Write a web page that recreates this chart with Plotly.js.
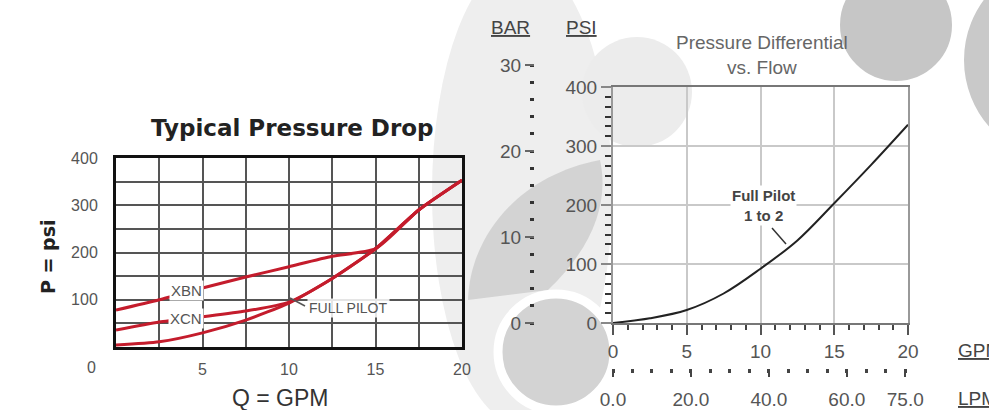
<!DOCTYPE html>
<html><head><meta charset="utf-8">
<script src="https://cdn.plot.ly/plotly-3.0.1.min.js"></script>
<style>html,body{margin:0;padding:0;background:#fff}#chart{width:989px;height:410px}</style>
</head><body><div id="chart"></div>
<script>
// ---- data ----
const gpmLeft = [0, 2.5, 5, 7.5, 10, 12.5, 15, 17.5, 20];
const fullPilotLeft = [4, 11, 30, 57, 93, 145, 208, 290, 353];
const xcnLeft = [36, 53, 64, 76, 95, 145, 208, 290, 353];
const xbnLeft = [78, 100, 125, 148, 170, 192, 208, 290, 353];
const leftXTicks = [5, 10, 15, 20];
const leftXLabels = ['5', '10', '15', '20'];
const leftYTicks = [100, 200, 300, 400];
const leftYLabels = ['100', '200', '300', '400'];

const gpmRight = [0, 2.5, 5, 7.5, 10, 12.5, 15, 17.5, 20];
const psiRight = [0, 8, 22, 50, 92, 140, 203, 268, 336];
const lpmTicks = [0, 20, 40, 60, 75];
const lpmLabels = ['0.0', '20.0', '40.0', '60.0', '75.0'];
const barTicks = [0, 10, 20, 30];

// ---- helpers (pixel -> paper) ----
const W = 989, H = 410;
const px = x => x / W, py = y => 1 - y / H;
const FONT = 'Liberation Sans, Arial, sans-serif';

function circ(cx, cy, r, fill, line) {
  return {type: 'circle', xref: 'paper', yref: 'paper', layer: 'below',
    x0: px(cx - r), x1: px(cx + r), y0: py(cy + r), y1: py(cy - r),
    fillcolor: fill, line: line || {width: 0}};
}
function ell(x0, y0, x1, y1, fill) {
  return {type: 'circle', xref: 'paper', yref: 'paper', layer: 'below',
    x0: px(x0), x1: px(x1), y0: py(y1), y1: py(y0), fillcolor: fill, line: {width: 0}};
}
function pathPx(cmds, fill) {
  let s = '', isX = true;
  cmds.forEach(c => {
    if (typeof c === 'string') { s += ' ' + c; isX = true; }
    else { s += ' ' + (isX ? px(c) : py(c)).toFixed(5); isX = !isX; }
  });
  return {type: 'path', xref: 'paper', yref: 'paper', layer: 'below', path: s.trim() + ' Z',
    fillcolor: fill, line: {width: 0}};
}
function linePx(x0, y0, x1, y1, color, w) {
  return {type: 'line', xref: 'paper', yref: 'paper', x0: px(x0), y0: py(y0), x1: px(x1), y1: py(y1),
    line: {color: color, width: w}};
}
function ann(text, x, y, opts) {
  return Object.assign({text: text, xref: 'paper', yref: 'paper', x: px(x), y: py(y),
    xanchor: 'center', yanchor: 'middle',
    showarrow: false, font: {family: FONT, size: 16, color: '#444'}}, opts || {});
}

const red = 'rgb(196,28,44)';
const traces = [
  {x: gpmLeft, y: xbnLeft, mode: 'lines', line: {color: red, width: 3, shape: 'spline', smoothing: 0.6}, xaxis: 'x', yaxis: 'y', hoverinfo: 'skip'},
  {x: gpmLeft, y: xcnLeft, mode: 'lines', line: {color: red, width: 3, shape: 'spline', smoothing: 0.6}, xaxis: 'x', yaxis: 'y', hoverinfo: 'skip'},
  {x: gpmLeft, y: fullPilotLeft, mode: 'lines', line: {color: red, width: 3, shape: 'spline', smoothing: 0.6}, xaxis: 'x', yaxis: 'y', hoverinfo: 'skip'},
  {x: gpmRight, y: psiRight, mode: 'lines', line: {color: '#222', width: 2, shape: 'spline'}, xaxis: 'x2', yaxis: 'y2', hoverinfo: 'skip'},
  {x: [], y: [], xaxis: 'x3', yaxis: 'y3', showlegend: false},
  {x: [], y: [], xaxis: 'x4', yaxis: 'y2', showlegend: false}
];

const tickF = {family: FONT, size: 16, color: '#555'};
const tickR = {family: FONT, size: 19, color: '#555'};

const layout = {
  width: W, height: H, margin: {l: 0, r: 0, t: 0, b: 0},
  paper_bgcolor: '#fff', plot_bgcolor: 'rgba(0,0,0,0)', showlegend: false,
  xaxis: {domain: [px(116), px(462)], range: [0, 20], anchor: 'y',
    tickmode: 'array', tickvals: leftXTicks, ticktext: leftXLabels, tickfont: tickF,
    ticks: '', ticklabelstandoff: 6,
    showgrid: true, gridcolor: '#555', gridwidth: 2, zeroline: false,
    minor: {tickmode: 'linear', tick0: 0, dtick: 2.5, showgrid: true, gridcolor: '#555', gridwidth: 2},
    showline: true, mirror: true, linecolor: '#111', linewidth: 3},
  yaxis: {domain: [py(347), py(158)], range: [0, 400], anchor: 'x',
    tickmode: 'array', tickvals: leftYTicks, ticktext: leftYLabels, tickfont: tickF,
    ticks: '', ticklabelstandoff: 12,
    showgrid: true, gridcolor: '#555', gridwidth: 2, zeroline: false,
    minor: {tickmode: 'linear', tick0: 0, dtick: 50, showgrid: true, gridcolor: '#555', gridwidth: 2},
    showline: true, mirror: true, linecolor: '#111', linewidth: 3},
  xaxis2: {domain: [px(613), px(908)], range: [0, 20], anchor: 'y2', dtick: 5, tickfont: tickR,
    showgrid: true, gridcolor: '#c9c9c9', gridwidth: 2, zeroline: false,
    showline: true, mirror: true, linecolor: '#777', linewidth: 2,
    ticks: 'outside', ticklen: 10, tickwidth: 2, tickcolor: '#555',
    minor: {dtick: 1, ticks: 'outside', ticklen: 5, tickwidth: 2, tickcolor: '#444'}},
  yaxis2: {domain: [py(323), py(87)], range: [0, 400], anchor: 'x2', dtick: 100, tickfont: tickR,
    showgrid: true, gridcolor: '#c9c9c9', gridwidth: 2, zeroline: false,
    showline: true, mirror: true, linecolor: '#999', linewidth: 2,
    ticks: 'outside', ticklen: 10, tickwidth: 2, tickcolor: '#888',
    minor: {dtick: 100 / 6, ticks: 'outside', ticklen: 6, tickwidth: 2, tickcolor: '#333'}},
  xaxis3: {domain: [px(535), px(600)], anchor: 'y3', visible: false, range: [0, 1]},
  yaxis3: {domain: [py(323), py(65)], range: [0, 30], anchor: 'x3',
    tickmode: 'array', tickvals: barTicks, tickfont: tickR,
    showgrid: false, zeroline: false, showline: false,
    ticks: 'outside', ticklen: 9, tickwidth: 2, tickcolor: '#666',
    minor: {tickmode: 'linear', tick0: 0, dtick: 2, ticks: 'outside', ticklen: 4, tickwidth: 3, tickcolor: '#333'}},
  xaxis4: {overlaying: 'x2', anchor: 'free', position: py(368), side: 'bottom', range: [0, 75.7],
    tickmode: 'array', tickvals: lpmTicks, ticktext: lpmLabels, tickfont: tickR,
    showgrid: false, zeroline: false, showline: false, ticklabelstandoff: 6,
    ticks: 'outside', ticklen: 8, tickwidth: 2, tickcolor: '#444',
    minor: {tickmode: 'linear', tick0: 0, dtick: 5, ticks: 'outside', ticklen: 4, tickwidth: 3, tickcolor: '#444'}},
  shapes: [
    ell(432, -40, 612, 425, '#eeeeee'),
    circ(637, 92, 55, '#ececec'),
    pathPx(['M', 468, 300, 'C', 470, 235, 520, 175, 600, 160, 'C', 610, 205, 590, 250, 548, 290], '#d3d3d3'),
    circ(556, 352, 58, '#d3d3d3', {color: '#ffffff', width: 9}),
    circ(896, 25, 58, '#c6c6c6', {color: '#ffffff', width: 4}),
    circ(1065, 60, 104, '#c9c9c9', {color: '#ffffff', width: 6}),
    linePx(290, 298, 305, 306, '#555', 1.5),
    linePx(772, 228, 786, 244, '#333', 1.5)
  ],
  annotations: [
    ann('Typical Pressure Drop', 292, 128, {font: {family: 'DejaVu Sans, sans-serif', size: 23, color: '#222', weight: 'bold'}}),
    ann('<b>P = psi</b>', 48, 257, {textangle: -90, font: {family: 'DejaVu Sans, sans-serif', size: 19, color: '#222'}}),
    ann('Q = GPM', 280, 398, {font: {family: FONT, size: 23, color: '#333'}}),
    ann('0', 91, 367, {font: tickF}),
    ann('XBN', 186, 290, {bgcolor: '#fff', font: {family: FONT, size: 15, color: '#555'}}),
    ann('XCN', 186, 318, {bgcolor: '#fff', font: {family: FONT, size: 15, color: '#555'}}),
    ann('FULL PILOT', 307, 308, {xanchor: 'left', bgcolor: 'rgba(255,255,255,0.85)', font: {family: FONT, size: 14, color: '#555'}}),
    ann('Pressure Differential<br>vs. Flow', 762, 55, {font: {family: FONT, size: 19, color: '#666'}}),
    ann('<b>Full Pilot<br>1 to 2</b>', 763, 205, {bgcolor: '#fff', font: {family: FONT, size: 15, color: '#444'}}),
    ann('<u>BAR</u>', 489, 27, {xanchor: 'left', font: {family: FONT, size: 19, color: '#444'}}),
    ann('<u>PSI</u>', 564, 27, {xanchor: 'left', font: {family: FONT, size: 19, color: '#444'}}),
    ann('<u>GPM</u>', 956, 350, {xanchor: 'left', font: {family: FONT, size: 19, color: '#444'}}),
    ann('<u>LPM</u>', 956, 398, {xanchor: 'left', font: {family: FONT, size: 19, color: '#444'}})
  ]
};

Plotly.newPlot('chart', traces, layout, {staticPlot: true, displayModeBar: false});
</script></body></html>
